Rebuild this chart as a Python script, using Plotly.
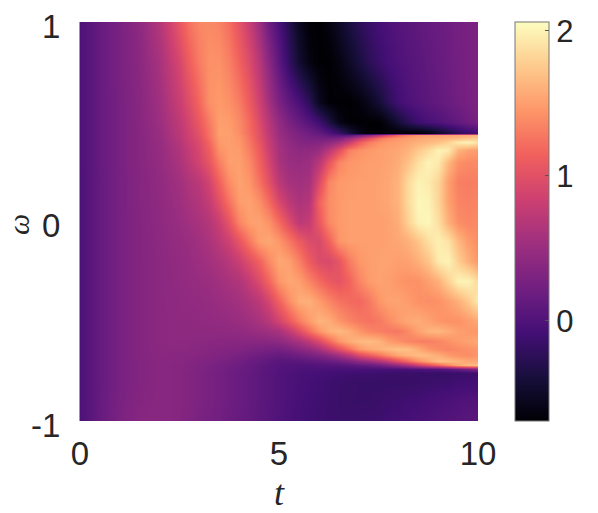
import plotly.graph_objects as go

t_values = [0, .5, 1, 1.5, 2, 2.5, 2.75, 3, 3.25, 3.5, 3.75, 4, 4.25, 4.5, 4.75, 5, 5.25, 5.5, 5.75, 6, 6.25,
            6.5, 6.75, 7, 7.25, 7.5, 7.75, 8, 8.25, 8.5, 8.75, 9, 9.25, 9.5, 9.75, 10]
omega_values = [1, .8, .6, .5, .445, .435, .42, .4, .36, .3, .2, .1, 0, -.1, -.2, -.3, -.4, -.5,
                -.55, -.6, -.64, -.67, -.7, -.72, -.74, -.76, -.8, -.9, -1]
field = [
 [-.02,.15,.28,.42,.68, 1.07,1.25,1.36,1.38,1.34,1.22,1.02,.8,.52,.18,-.05,-.3,-.55,-.68,-.69,-.62,-.5,-.37,-.25,-.15,-.08,-.02,.03,.07,.1,.14,.17,.2,.24,.27,.3],
 [-.02,.15,.28,.4,.6, .92,1.12,1.3,1.42,1.42,1.32,1.15,.95,.7,.38,.08,-.2,-.45,-.62,-.69,-.69,-.62,-.5,-.38,-.25,-.15,-.07,-.02,.03,.07,.11,.15,.19,.23,.27,.3],
 [-.02,.15,.27,.38,.55, .82,.98,1.18,1.42,1.47,1.42,1.3,1.1,.85,.55,.28,.1,-.05,-.25,-.55,-.68,-.69,-.69,-.65,-.55,-.42,-.25,-.1,-.02,.03,.08,.12,.17,.22,.26,.3],
 [-.02,.15,.27,.38,.52, .75,.9,1.08,1.3,1.5,1.48,1.38,1.2,.95,.68,.45,.28,.15,.03,-.12,-.35,-.6,-.68,-.69,-.69,-.69,-.58,-.42,-.25,-.12,-.05,.0,.06,.13,.2,.27],
 [-.02,.15,.27,.37,.5, .72,.86,1.02,1.25,1.5,1.5,1.4,1.22,1.0,.72,.5,.37,.28,.2,.12,.0,-.15,-.38,-.58,-.68,-.69,-.69,-.69,-.69,-.69,-.62,-.5,-.38,-.25,-.15,-.08],
 [-.02,.15,.27,.37,.5, .72,.86,1.0,1.25,1.5,1.5,1.42,1.24,1.0,.74,.5,.38,.3,.23,.18,.1,.05,.08,.25,.45,.7,.95,1.2,1.35,1.45,1.48,1.5,1.52,1.55,1.58,1.6],
 [-.02,.15,.27,.37,.49, .7,.84,.98,1.22,1.48,1.5,1.44,1.26,1.02,.76,.52,.4,.32,.27,.25,.25,.3,.5,.75,1.0,1.25,1.38,1.45,1.5,1.55,1.58,1.6,1.63,1.66,1.72,1.75],
 [-.02,.15,.27,.37,.48, .68,.82,.95,1.18,1.47,1.5,1.45,1.28,1.05,.78,.55,.43,.35,.33,.35,.42,.55,.8,1.1,1.3,1.42,1.47,1.5,1.55,1.6,1.65,1.7,1.8,1.95,2.0,1.9],
 [-.02,.15,.27,.37,.47, .65,.78,.92,1.12,1.42,1.5,1.48,1.32,1.1,.82,.58,.47,.42,.43,.5,.72,1.0,1.32,1.42,1.47,1.5,1.52,1.55,1.62,1.75,1.85,2.0,1.95,1.62,1.52,1.48],
 [-.02,.15,.27,.37,.46, .62,.74,.88,1.05,1.32,1.5,1.5,1.38,1.15,.88,.6,.5,.48,.52,.7,1.05,1.35,1.45,1.47,1.5,1.5,1.53,1.58,1.7,1.88,2.0,1.95,1.65,1.42,1.38,1.38],
 [-.02,.14,.27,.36,.44, .56,.64,.72,.88,1.15,1.4,1.52,1.45,1.25,1.0,.72,.58,.55,.58,.95,1.36,1.47,1.48,1.5,1.5,1.52,1.55,1.62,1.85,2.0,1.95,1.82,1.5,1.32,1.3,1.32],
 [-.02,.14,.27,.36,.43, .53,.6,.66,.78,1.0,1.25,1.48,1.52,1.42,1.2,.92,.72,.62,.68,1.15,1.4,1.47,1.5,1.5,1.5,1.52,1.55,1.62,1.85,2.02,2.0,1.82,1.52,1.35,1.33,1.35],
 [-.02,.14,.27,.35,.42, .5,.55,.6,.68,.82,1.05,1.35,1.5,1.52,1.42,1.2,.95,.72,.78,1.08,1.38,1.47,1.5,1.5,1.5,1.5,1.52,1.58,1.8,2.0,2.02,1.88,1.6,1.4,1.36,1.38],
 [-.02,.14,.27,.35,.41, .47,.5,.55,.62,.72,.85,1.05,1.28,1.5,1.55,1.45,1.28,1.1,.95,.92,1.15,1.45,1.5,1.5,1.5,1.5,1.52,1.55,1.6,1.72,1.88,1.98,1.9,1.65,1.48,1.4],
 [-.02,.14,.27,.35,.4, .45,.48,.52,.56,.62,.7,.82,.98,1.15,1.38,1.55,1.5,1.32,1.1,.95,.92,1.05,1.3,1.45,1.5,1.52,1.52,1.5,1.52,1.6,1.72,1.95,2.0,1.78,1.6,1.45],
 [-.02,.14,.27,.35,.4, .44,.46,.48,.51,.55,.6,.65,.78,.95,1.18,1.45,1.55,1.5,1.35,1.2,1.08,1.03,1.15,1.35,1.48,1.52,1.5,1.45,1.42,1.42,1.5,1.6,1.8,2.0,2.0,1.85],
 [-.02,.14,.27,.35,.4, .43,.44,.45,.47,.5,.53,.57,.63,.72,.9,1.15,1.4,1.58,1.6,1.48,1.35,1.25,1.2,1.18,1.28,1.45,1.52,1.52,1.48,1.42,1.4,1.42,1.5,1.6,1.75,1.95],
 [-.02,.14,.27,.35,.4, .42,.42,.43,.44,.45,.47,.5,.54,.6,.7,.88,1.08,1.3,1.48,1.62,1.58,1.45,1.35,1.28,1.25,1.28,1.38,1.48,1.55,1.58,1.52,1.45,1.42,1.42,1.48,1.55],
 [-.02,.14,.27,.35,.4, .42,.42,.42,.42,.42,.43,.44,.47,.5,.54,.6,.76,.98,1.22,1.45,1.6,1.65,1.58,1.45,1.36,1.32,1.28,1.28,1.38,1.52,1.62,1.65,1.58,1.5,1.47,1.45],
 [-.02,.14,.27,.35,.4, .41,.4,.4,.39,.38,.38,.38,.38,.38,.39,.42,.5,.6,.75,.95,1.2,1.45,1.58,1.65,1.67,1.62,1.5,1.42,1.35,1.32,1.32,1.35,1.42,1.48,1.52,1.55],
 [-.02,.14,.27,.35,.39, .4,.39,.38,.36,.35,.33,.32,.3,.28,.26,.25,.3,.38,.46,.58,.78,1.0,1.22,1.45,1.55,1.6,1.66,1.7,1.68,1.58,1.45,1.38,1.35,1.38,1.42,1.45],
 [-.02,.14,.27,.35,.39, .38,.37,.36,.34,.32,.3,.27,.23,.2,.17,.14,.16,.2,.26,.32,.42,.55,.72,.95,1.1,1.25,1.4,1.55,1.62,1.68,1.65,1.58,1.48,1.42,1.4,1.45],
 [-.02,.14,.27,.34,.38, .37,.35,.33,.31,.28,.25,.22,.18,.14,.1,.06,.06,.07,.09,.12,.16,.22,.3,.42,.52,.65,.8,1.0,1.2,1.4,1.55,1.7,1.68,1.62,1.55,1.55],
 [-.02,.14,.27,.34,.38, .36,.34,.32,.29,.26,.22,.19,.15,.11,.07,.03,.01,.0,.0,.02,.03,.05,.08,.12,.16,.22,.32,.45,.6,.8,.98,1.15,1.35,1.55,1.65,1.68],
 [-.02,.14,.27,.34,.38, .36,.34,.31,.28,.25,.21,.18,.14,.1,.06,.02,.0,-.02,-.03,-.03,-.04,-.05,-.05,-.05,-.05,-.05,-.05,-.05,-.04,-.02,0,.02,.07,.15,.25,.35],
 [-.02,.14,.27,.34,.38, .36,.33,.3,.27,.24,.2,.17,.13,.09,.05,.01,-.02,-.04,-.06,-.07,-.09,-.1,-.11,-.12,-.12,-.13,-.14,-.15,-.15,-.16,-.16,-.17,-.16,-.15,-.14,-.12],
 [-.02,.14,.27,.34,.38, .36,.33,.3,.27,.24,.2,.17,.13,.09,.05,.01,-.02,-.05,-.08,-.1,-.12,-.14,-.15,-.16,-.16,-.17,-.17,-.17,-.17,-.16,-.15,-.14,-.13,-.11,-.1,-.09],
 [-.02,.15,.28,.35,.38, .36,.33,.3,.27,.24,.2,.17,.13,.09,.05,.01,-.03,-.06,-.09,-.11,-.13,-.15,-.16,-.16,-.16,-.15,-.13,-.12,-.1,-.09,-.07,-.05,-.03,-.01,.01,.02],
 [-.02,.15,.29,.37,.39, .35,.32,.28,.25,.22,.18,.15,.12,.08,.04,.0,-.04,-.07,-.1,-.12,-.13,-.14,-.14,-.14,-.13,-.12,-.1,-.09,-.07,-.05,-.03,0,.02,.04,.06,.07],
]
x_ticks = [0, 5, 10]
y_ticks = [-1, 0, 1]
y_tick_labels = ["-1", "0", "1"]
bar_ticks = [0, 1, 2]

ink = "#262626"
fig = go.Figure(go.Heatmap(
    x=t_values, y=omega_values, z=field, zsmooth="best",
    colorscale="Magma", zmin=-0.69, zmax=2.06,
    colorbar=dict(
        x=(515 - 80) / 398, xanchor="left", y=0.5, yanchor="middle",
        thickness=34, thicknessmode="pixels", len=1, lenmode="fraction",
        tickvals=bar_ticks, ticks="inside", ticklen=4, tickcolor="#555", tickwidth=1,
        outlinecolor="#777", outlinewidth=1, xpad=0, ypad=0,
        tickfont=dict(family="Liberation Sans", size=31, color=ink),
    ),
))
fig.update_layout(
    width=598, height=513, paper_bgcolor="white", plot_bgcolor="white",
    margin=dict(l=80, r=120, t=22, b=92, autoexpand=False),
    font=dict(family="Liberation Sans", size=33, color=ink),
    xaxis=dict(range=[0, 10], tickvals=x_ticks, ticks="", showgrid=False, zeroline=False,
               ticklabelstandoff=10,
               title=dict(text="<i>t</i>", font=dict(family="Liberation Serif", size=36, color=ink), standoff=12),
               tickfont=dict(size=33, color=ink)),
    yaxis=dict(range=[-1, 1], tickvals=y_ticks, ticktext=y_tick_labels, ticks="", showgrid=False, zeroline=False,
               ticklabelstandoff=12, ticklabelshift=4, showline=True, linecolor="#999", linewidth=1,
               tickfont=dict(size=33, color=ink)),
    annotations=[dict(text="<i>ω</i>", xref="paper", yref="paper", x=(18 - 80) / 398, y=(421 - 225) / 399,
                      xanchor="center", yanchor="middle", textangle=-90, showarrow=False,
                      font=dict(family="Liberation Serif", size=30, color=ink))],
)
assert all(len(r) == len(t_values) for r in field) and len(field) == len(omega_values)
fig.write_html("out.html", config={"displayModeBar": False}, post_script="document.body.style.margin='0';")
